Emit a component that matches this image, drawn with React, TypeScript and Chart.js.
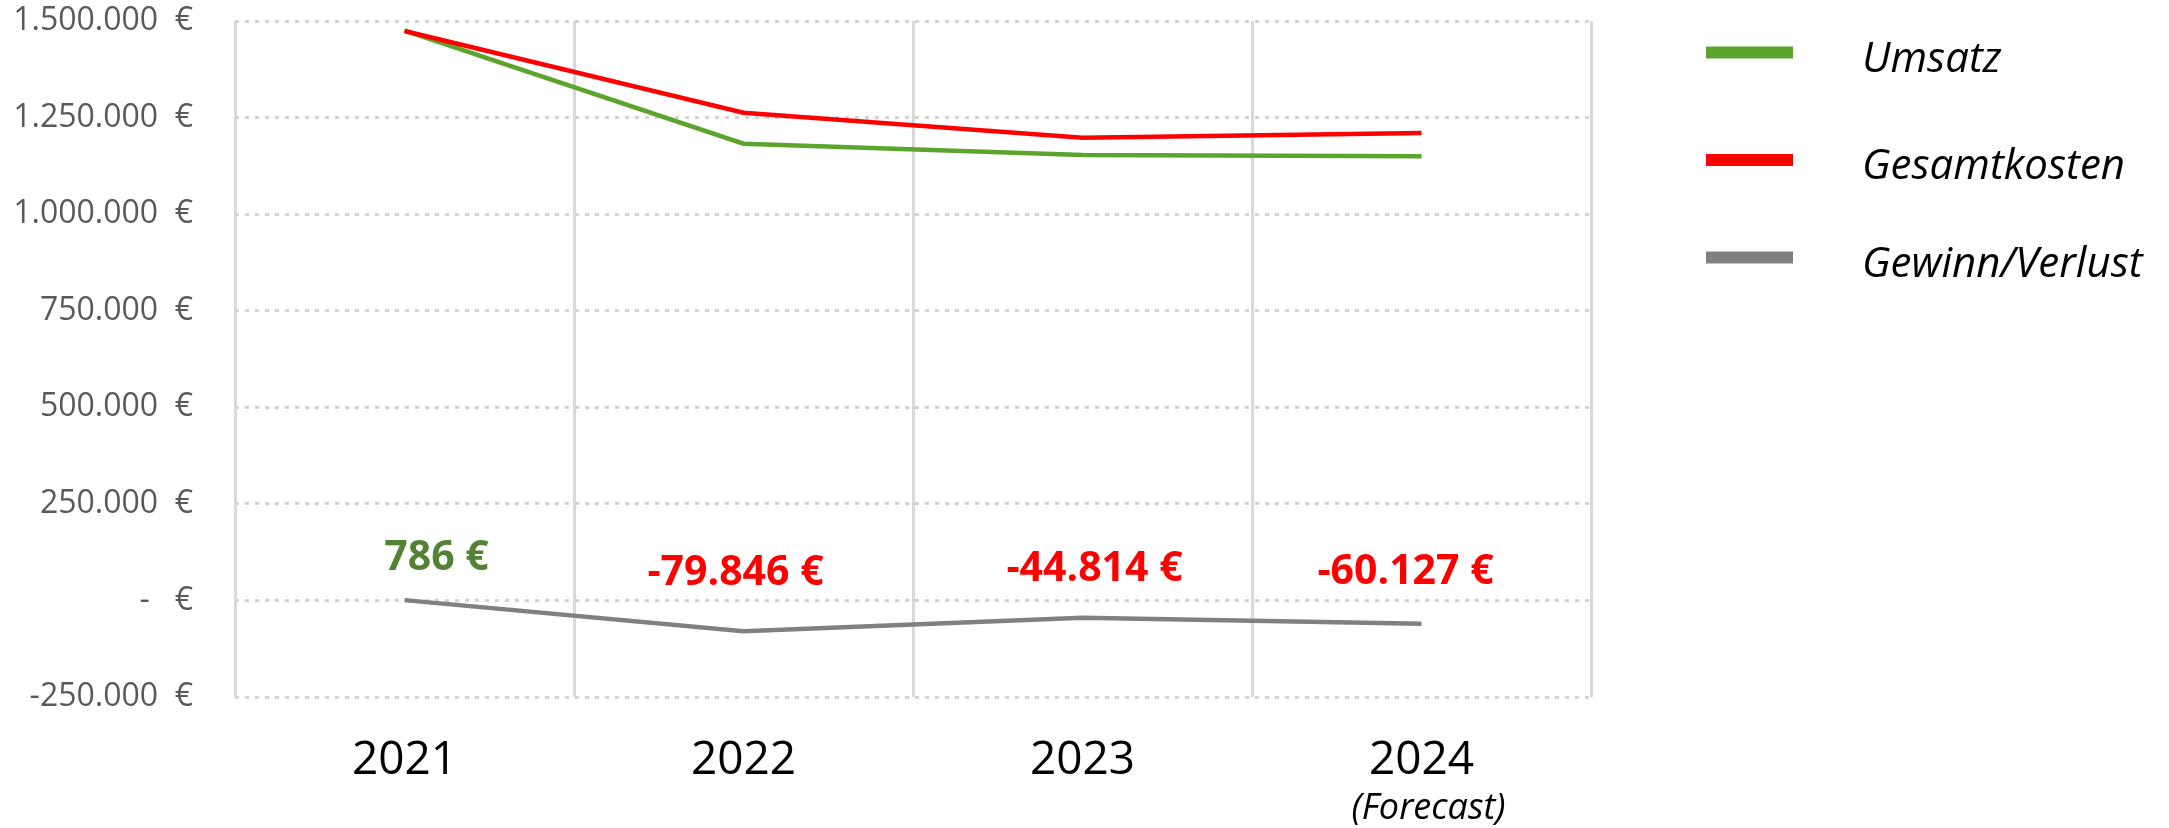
import React, { useEffect, useRef } from "react";
import { Chart, registerables } from "chart.js";

Chart.register(...registerables);

// ---- data ----
const YEARS = ["2021", "2022", "2023", "2024"];
const FORECAST_NOTE = "(Forecast)";
const UMSATZ = [1474900, 1182500, 1153000, 1150000];
const GESAMTKOSTEN = [1474114, 1262346, 1197814, 1210127];
const GEWINN = [786, -79846, -44814, -60127];
const PROFIT_LABELS = ["786 €", "-79.846 €", "-44.814 €", "-60.127 €"];
const Y_TICK_LABELS = [
  "-250.000  €",
  "-   €",
  "250.000  €",
  "500.000  €",
  "750.000  €",
  "1.000.000  €",
  "1.250.000  €",
  "1.500.000  €",
];

const FONT = "'Open Sans', 'Noto Sans', sans-serif";

const profitLabelPlugin = {
  id: "profitLabels",
  afterDatasetsDraw(chart: any) {
    const ctx = chart.ctx;
    const meta = chart.getDatasetMeta(2);
    // visual nudges (dx, dy of baseline) relative to each point
    const nudges = [
      [32, -30],
      [-8, -46],
      [12, -37],
      [-16, -40],
    ];
    ctx.save();
    ctx.font = `bold 41px ${FONT}`;
    ctx.textAlign = "center";
    ctx.textBaseline = "alphabetic";
    meta.data.forEach((pt: any, i: number) => {
      const v = GEWINN[i];
      ctx.fillStyle = v >= 0 ? "#548235" : "#ff0000";
      ctx.fillText(PROFIT_LABELS[i], pt.x + nudges[i][0], pt.y + nudges[i][1]);
    });
    ctx.restore();
  },
};

const extrasPlugin = {
  id: "extras",
  afterDraw(chart: any) {
    const ctx = chart.ctx;
    ctx.save();
    // forecast note under the last category
    const xs = chart.scales.x;
    ctx.font = `italic 36px ${FONT}`;
    ctx.fillStyle = "#000000";
    ctx.textAlign = "center";
    ctx.textBaseline = "alphabetic";
    ctx.fillText(FORECAST_NOTE, xs.getPixelForValue(YEARS.length - 1) + 7, 819);

    // legend on the right
    const centers = [52.5, 160, 257.5];
    chart.data.datasets.forEach((ds: any, i: number) => {
      ctx.fillStyle = ds.borderColor;
      ctx.fillRect(1706, centers[i] - 6, 87, 12);
      ctx.fillStyle = "#000000";
      ctx.font = `italic 42px ${FONT}`;
      ctx.textAlign = "left";
      ctx.fillText(ds.label, 1862, centers[i] + 19);
    });
    ctx.restore();
  },
};

export default function App() {
  const ref = useRef<HTMLCanvasElement | null>(null);

  useEffect(() => {
    document.body.style.margin = "0";
    const canvas = ref.current;
    if (!canvas) return;
    const chart = new Chart(canvas, {
      type: "line",
      data: {
        labels: YEARS,
        datasets: [
          {
            label: "Umsatz",
            data: UMSATZ,
            borderColor: "#5ba52c",
            backgroundColor: "#5ba52c",
            borderWidth: 4.5,
            pointRadius: 0,
            tension: 0,
            order: 1,
          },
          {
            label: "Gesamtkosten",
            data: GESAMTKOSTEN,
            borderColor: "#ff0000",
            backgroundColor: "#ff0000",
            borderWidth: 4.5,
            pointRadius: 0,
            tension: 0,
            order: 0,
          },
          {
            label: "Gewinn/Verlust",
            data: GEWINN,
            borderColor: "#808080",
            backgroundColor: "#808080",
            borderWidth: 4.5,
            pointRadius: 0,
            tension: 0,
            order: 2,
          },
        ],
      },
      options: {
        responsive: false,
        animation: false,
        devicePixelRatio: 1,
        layout: { padding: { left: 0, right: 578, top: 21, bottom: 0 } },
        plugins: {
          legend: { display: false },
          tooltip: { enabled: false },
        },
        scales: {
          x: {
            offset: true,
            grid: {
              offset: true,
              color: "#d9d9d9",
              lineWidth: 3,
              drawTicks: false,
            },
            border: { display: false },
            ticks: {
              color: "#000000",
              font: { family: FONT, size: 46 },
              padding: 36,
            },
            afterFit: (s: any) => {
              s.height = 131;
              s.paddingLeft = 0;
              s.paddingRight = 0;
            },
          },
          y: {
            min: -250000,
            max: 1500000,
            grid: {
              color: "#d4d4d4",
              lineWidth: 3,
              drawTicks: false,
            },
            border: { display: false, dash: [4, 6] },
            ticks: {
              stepSize: 250000,
              color: "#595959",
              font: { family: FONT, size: 32 },
              padding: 42,
              callback: (_v: any, i: number) => Y_TICK_LABELS[i],
            },
            afterFit: (s: any) => {
              s.width = 235;
              s.paddingTop = 0;
              s.paddingBottom = 0;
            },
          },
        },
      },
      plugins: [profitLabelPlugin, extrasPlugin],
    });
    return () => chart.destroy();
  }, []);

  return (
    <div style={{ width: 2169, height: 828 }}>
      <canvas ref={ref} width={2169} height={828} style={{ display: "block" }} />
    </div>
  );
}
